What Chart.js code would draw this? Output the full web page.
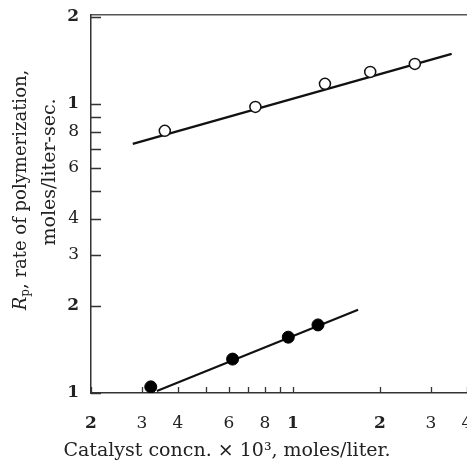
<!DOCTYPE html>
<html>
<head>
<meta charset="utf-8">
<script src="https://cdn.jsdelivr.net/npm/chart.js@4/dist/chart.umd.min.js"></script>
<style>
  html, body { margin: 0; padding: 0; background: #fff; overflow: hidden; }
  #wrap { width: 467px; height: 463px; overflow: hidden; }
  #box { width: 480px; height: 463px; }
</style>
</head>
<body>
<div id="wrap"><div id="box"><canvas id="rateChart"></canvas></div></div>
<script>
// open circles (upper series)
const openX = [0.360, 0.741, 1.29, 1.85, 2.64]
const openY = [0.807, 0.976, 1.173, 1.29, 1.375]
// filled circles (lower series)
const filledX = [0.322, 0.618, 0.963, 1.22]
const filledY = [0.105, 0.131, 0.156, 0.172]
// fitted straight lines, end points
const fitUpperX = [0.279, 3.54]
const fitUpperY = [0.727, 1.49]
const fitLowerX = [0.338, 1.68]
const fitLowerY = [0.1016, 0.194]

// log axis ticks and their labels
const xTicks = [0.2, 0.3, 0.4, 0.5, 0.6, 0.7, 0.8, 0.9, 1, 2, 3, 4]
const xTickLabels = ['2', '3', '4', '', '6', '', '8', '', '1', '2', '3', '4']
const yTicks = [0.1, 0.2, 0.3, 0.4, 0.5, 0.6, 0.7, 0.8, 0.9, 1, 2]
const yTickLabels = ['1', '2', '3', '4', '', '6', '', '8', '', '1', '2']

const xTitle = 'Catalyst concn. \u00d7 10\u00b3, moles/liter.'
const yTitle1 = ', rate of polymerization,'
const yTitle2 = 'moles/liter-sec.'

const serif = "'DejaVu Serif', 'Liberation Serif', serif"

function toPoints(xs, ys) {
    return xs.map(function (v, i) { return { x: v, y: ys[i] } })
}

function tickFont(ctx) {
    let lbl = ctx.tick && ctx.tick.label
    return { family: serif, size: 17, weight: (lbl === '1' || lbl === '2') ? 'bold' : 'normal' }
}

// no extra room for the end labels, the axes sit on fixed lines
function noPad(s) {
    s.paddingTop = 0
    s.paddingBottom = 0
    s.paddingLeft = 0
    s.paddingRight = 0
}

// inward tick marks + axis titles
const decorations = {
    id: 'decorations',
    afterDraw: function (chart) {
        let ctx = chart.ctx
        let area = chart.chartArea
        let xs = chart.scales.x
        let ys = chart.scales.y
        ctx.save()
        ctx.strokeStyle = '#333'
        ctx.lineWidth = 1.3
        ctx.beginPath()
        yTicks.forEach(function (v) {
            let py = Math.round(ys.getPixelForValue(v)) + 0.5
            ctx.moveTo(area.left, py)
            ctx.lineTo(area.left + 10, py)
        })
        xTicks.forEach(function (v) {
            let px = Math.round(xs.getPixelForValue(v)) + 0.5
            ctx.moveTo(px, area.bottom)
            ctx.lineTo(px, area.bottom - 6)
        })
        ctx.stroke()

        ctx.fillStyle = '#222'
        ctx.font = '19px ' + serif
        ctx.textAlign = 'center'
        ctx.textBaseline = 'middle'
        ctx.fillText(xTitle, 227, 451)

        // first y title line: italic R with subscript p
        ctx.save()
        ctx.translate(21, 190)
        ctx.rotate(-Math.PI / 2)
        ctx.textAlign = 'left'
        ctx.font = 'italic 18px ' + serif
        let wR = ctx.measureText('R').width
        ctx.font = '12px ' + serif
        let wP = ctx.measureText('p').width
        ctx.font = '18px ' + serif
        let wRest = ctx.measureText(yTitle1).width
        let x0 = -(wR + wP + wRest) / 2
        ctx.font = 'italic 18px ' + serif
        ctx.fillText('R', x0, 0)
        ctx.font = '12px ' + serif
        ctx.fillText('p', x0 + wR, 5)
        ctx.font = '18px ' + serif
        ctx.fillText(yTitle1, x0 + wR + wP, 0)
        ctx.restore()

        ctx.save()
        ctx.translate(50, 172)
        ctx.rotate(-Math.PI / 2)
        ctx.font = '19px ' + serif
        ctx.fillText(yTitle2, 0, 0)
        ctx.restore()

        ctx.restore()
    }
}

new Chart(document.getElementById('rateChart'), {
    type: 'scatter',
    data: {
        datasets: [{
            label: 'open',
            data: toPoints(openX, openY),
            pointStyle: 'circle',
            pointRadius: 5.5,
            pointBorderWidth: 1.5,
            pointBorderColor: '#111',
            pointBackgroundColor: '#fff',
            showLine: false
        }, {
            label: 'filled',
            data: toPoints(filledX, filledY),
            pointStyle: 'circle',
            pointRadius: 6,
            pointBorderWidth: 1,
            pointBorderColor: '#000',
            pointBackgroundColor: '#000',
            showLine: false
        }, {
            label: 'fit upper',
            data: toPoints(fitUpperX, fitUpperY),
            showLine: true,
            borderColor: '#111',
            borderWidth: 2.2,
            pointRadius: 0
        }, {
            label: 'fit lower',
            data: toPoints(fitLowerX, fitLowerY),
            showLine: true,
            borderColor: '#111',
            borderWidth: 2.2,
            pointRadius: 0
        }]
    },
    options: {
        responsive: true,
        maintainAspectRatio: false,
        animation: false,
        events: [],
        layout: { padding: { left: 0, right: 13, top: 0, bottom: 0 } },
        plugins: {
            legend: { display: false },
            tooltip: { enabled: false }
        },
        scales: {
            x: {
                type: 'logarithmic',
                position: 'bottom',
                min: 0.2,
                max: 4,
                afterBuildTicks: function (s) { s.ticks = xTicks.map(function (v) { return { value: v } }) },
                afterFit: function (s) { s.height = 70; noPad(s) },
                grid: { display: false, drawTicks: false },
                border: { display: true, color: '#333', width: 1.5 },
                ticks: {
                    autoSkip: false,
                    maxRotation: 0,
                    padding: 20,
                    color: '#222',
                    font: tickFont,
                    callback: function (v, i) { return xTickLabels[i] }
                }
            },
            top: {
                type: 'logarithmic',
                position: 'top',
                min: 0.2,
                max: 4,
                afterFit: function (s) { s.height = 15; noPad(s) },
                grid: { display: false, drawTicks: false },
                border: { display: true, color: '#555', width: 1.5 },
                ticks: { display: false }
            },
            y: {
                type: 'logarithmic',
                min: 0.1,
                max: 2.03,
                afterBuildTicks: function (s) { s.ticks = yTicks.map(function (v) { return { value: v } }) },
                afterFit: function (s) { s.width = 91; noPad(s) },
                grid: { display: false, drawTicks: false },
                border: { display: true, color: '#333', width: 1.5 },
                ticks: {
                    autoSkip: false,
                    padding: 12,
                    color: '#222',
                    font: tickFont,
                    callback: function (v, i) { return yTickLabels[i] }
                }
            }
        }
    },
    plugins: [decorations]
})
</script>
</body>
</html>
